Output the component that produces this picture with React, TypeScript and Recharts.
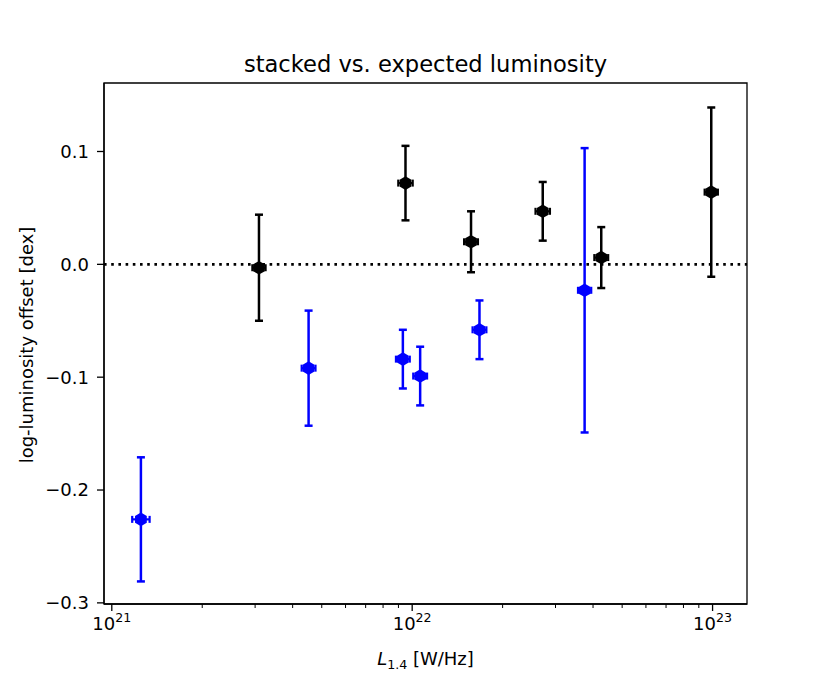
import { ScatterChart, Scatter, XAxis, YAxis, ErrorBar, ReferenceLine, ReferenceArea } from 'recharts'

const FONT = '"DejaVu Sans", Verdana, sans-serif'

// stacked sample (black): L_1.4 in W/Hz, offset and errors in dex
const blackL = [3.09e21, 9.5e21, 1.57e22, 2.72e22, 4.26e22, 9.9e22]
const blackOffset = [-0.003, 0.072, 0.02, 0.047, 0.006, 0.064]
const blackErr = [0.047, 0.033, 0.027, 0.026, 0.027, 0.075]
const blackLErr = [0.022, 0.024, 0.023, 0.024, 0.023, 0.022]

// second sample (blue)
const blueL = [1.25e21, 4.52e21, 9.31e21, 1.063e22, 1.675e22, 3.75e22]
const blueOffset = [-0.226, -0.092, -0.084, -0.099, -0.058, -0.023]
const blueErr = [0.055, 0.051, 0.026, 0.026, 0.026, 0.126]
const blueLErr = [0.029, 0.023, 0.023, 0.023, 0.023, 0.022]

const yTicks = [-0.3, -0.2, -0.1, 0, 0.1]
const decades = [21, 22, 23]
const minorSteps = [2, 3, 4, 5, 6, 7, 8, 9]

const X_MIN = 9.42e20
const X_MAX = 1.302e23
const Y_MIN = -0.301
const Y_MAX = 0.1607

const xTicks = decades
  .flatMap((d) => [10 ** d, ...minorSteps.map((m) => m * 10 ** d)])
  .filter((v) => v >= X_MIN && v <= X_MAX)

// x errors are given in dex, errorbar wants linear deltas
const toPoints = (L: number[], off: number[], err: number[], lerr: number[]) =>
  L.map((l, i) => ({
    x: l,
    y: off[i],
    yErr: err[i],
    xErr: [l - l / 10 ** lerr[i], l * 10 ** lerr[i] - l],
  }))

const blackData = toPoints(blackL, blackOffset, blackErr, blackLErr)
const blueData = toPoints(blueL, blueOffset, blueErr, blueLErr)

const hexagon = (color: string) => (props: any) => {
  const { cx, cy } = props
  const r = 6.8
  const pts = [0, 1, 2, 3, 4, 5]
    .map((k) => {
      const a = ((-90 + k * 60) * Math.PI) / 180
      return `${cx + r * Math.cos(a)},${cy + r * Math.sin(a)}`
    })
    .join(' ')
  return <polygon points={pts} fill={color} />
}

function XTick(props: any) {
  const { x, y, payload } = props
  const lg = Math.log10(payload.value)
  const exp = Math.round(lg)
  const major = Math.abs(lg - exp) < 1e-6
  return (
    <g>
      <line x1={x} x2={x} y1={y} y2={y + (major ? 7 : 4)} stroke="#000" strokeWidth={major ? 1.3 : 1} />
      {major && (
        <text x={x} y={y + 26} textAnchor="middle" fontFamily={FONT} fontSize={18} fill="#000">
          10
          <tspan dy={-8} fontSize={12.6}>
            {exp}
          </tspan>
        </text>
      )}
    </g>
  )
}

const fmtY = (v: number) => (v < 0 ? '\u2212' : '') + Math.abs(v).toFixed(1)

export default function App() {
  return (
    <div style={{ position: 'absolute', left: 0, top: 0, width: 830, height: 692, background: '#fff', fontFamily: FONT, color: '#000' }}>
      <div style={{ position: 'absolute', left: 104, width: 643, top: 53, fontSize: 22.6, lineHeight: '22px', textAlign: 'center', whiteSpace: 'nowrap' }}>
        stacked vs. expected luminosity
      </div>
      <ScatterChart width={830} height={692} margin={{ top: 83, right: 83, bottom: 0, left: 0 }}>
        <XAxis
          dataKey="x"
          type="number"
          scale="log"
          domain={[X_MIN, X_MAX]}
          allowDataOverflow
          ticks={xTicks}
          interval={0}
          tick={<XTick />}
          tickLine={false}
          tickSize={0}
          tickMargin={0}
          height={88}
          axisLine={{ stroke: '#000', strokeWidth: 1.3 }}
        />
        <YAxis
          dataKey="y"
          type="number"
          domain={[Y_MIN, Y_MAX]}
          allowDataOverflow
          ticks={yTicks}
          interval={0}
          tickFormatter={fmtY}
          width={104}
          tickSize={7}
          tickMargin={8}
          tick={{ fill: '#000', fontSize: 18, fontFamily: FONT }}
          tickLine={{ stroke: '#000', strokeWidth: 1.3 }}
          axisLine={{ stroke: '#000', strokeWidth: 1.3 }}
        />
        <ReferenceArea x1={X_MIN} x2={X_MAX} y1={Y_MIN} y2={Y_MAX} fill="none" fillOpacity={0} stroke="#000" strokeWidth={1.3} strokeOpacity={1} />
        <ReferenceLine y={0} stroke="#000" strokeWidth={2.6} strokeDasharray="2.6 4.6" />
        <Scatter data={blackData} fill="#000" shape={hexagon('#000')} isAnimationActive={false}>
          <ErrorBar dataKey="yErr" direction="y" width={4} stroke="#000" strokeWidth={2.5} isAnimationActive={false} />
          <ErrorBar dataKey="xErr" direction="x" width={3.5} stroke="#000" strokeWidth={2.2} isAnimationActive={false} />
        </Scatter>
        <Scatter data={blueData} fill="#0000ff" shape={hexagon('#0000ff')} isAnimationActive={false}>
          <ErrorBar dataKey="yErr" direction="y" width={4} stroke="#0000ff" strokeWidth={2.5} isAnimationActive={false} />
          <ErrorBar dataKey="xErr" direction="x" width={3.5} stroke="#0000ff" strokeWidth={2.2} isAnimationActive={false} />
        </Scatter>
      </ScatterChart>
      <div style={{ position: 'absolute', left: 104, width: 643, top: 649, fontSize: 18, lineHeight: '20px', textAlign: 'center', whiteSpace: 'nowrap' }}>
        <span style={{ fontStyle: 'italic' }}>L</span>
        <span style={{ fontSize: 12.6, position: 'relative', top: 4 }}>1.4</span>
        <span> [W/Hz]</span>
      </div>
      <div
        style={{
          position: 'absolute',
          left: 27 - 200,
          top: 345 - 11,
          width: 400,
          fontSize: 18,
          lineHeight: '22px',
          textAlign: 'center',
          transform: 'rotate(-90deg)',
          whiteSpace: 'nowrap',
        }}
      >
        log-luminosity offset [dex]
      </div>
    </div>
  )
}
